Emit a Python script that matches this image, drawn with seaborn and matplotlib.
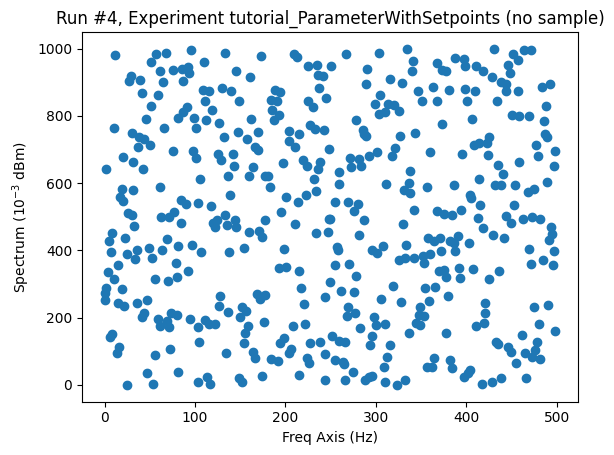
import matplotlib
matplotlib.use("Agg")
import matplotlib.pyplot as plt
import seaborn as sns

# values (freq in Hz, spectrum in 1e-3 dBm)
freq_hz = [
    11.6, 29.0, 27.1, 39.7, 41.9, 45.9, 10.9, 30.8, 38.2, 44.1, 36.7, 20.8,
    31.9, 43.0, 1.6, 19.0, 31.9, 17.1, 20.8, 25.6, 30.1, 33.0, 8.7, 5.0,
    22.7, 7.2, 24.5, 35.6, 33.8, 15.3, 4.2, 10.9, 1.3, 0.0, 0.5, 19.7,
    46.7, 14.6, 22.0, 36.3, 44.1, 41.1, 8.7, 6.1, 16.0, 13.5, 46.7, 24.9,
    51.4, 57.0, 67.7, 61.4, 65.1, 75.1, 85.4, 92.0, 93.5, 87.2, 95.7, 109.4,
    59.6, 51.4, 90.9, 87.2, 81.7, 108.3, 110.5, 99.4, 100.9, 112.3, 66.2, 50.3,
    76.2, 98.3, 100.9, 105.7, 61.4, 84.7, 89.8, 103.8, 62.5, 71.4, 77.3, 84.7,
    49.2, 52.2, 64.0, 68.8, 81.7, 97.2, 106.8, 78.7, 55.9, 70.6, 80.6, 92.0,
    58.8, 61.4, 68.8, 71.4, 73.6, 79.9, 94.6, 103.1, 111.2, 104.6, 55.9, 72.5,
    54.0, 81.7, 103.1, 113.1,
    132.6, 173.2, 145.1, 161.0, 114.9, 129.7, 140.0, 148.1, 118.6, 126.0, 131.5, 162.1,
    147.0, 157.3, 169.5, 166.6, 169.5, 125.2, 128.9, 141.5, 142.6, 163.6, 159.9, 136.3,
    176.9, 138.9, 117.8, 133.3, 124.1, 120.4, 122.3, 143.7, 135.2, 145.1, 159.2, 170.2,
    173.9, 177.6, 153.6, 137.8, 168.4, 172.1, 177.6, 127.8, 126.7, 137.0, 151.8, 156.2,
    149.9, 158.4, 155.5, 153.6, 175.8, 114.9, 122.3, 134.1, 164.0, 165.8, 116.7, 148.1,
    151.8, 173.9,
    209.0, 212.7, 224.8, 234.8, 235.9, 241.1, 237.4, 244.8, 188.7, 194.2, 184.2, 190.5,
    185.0, 193.1, 186.8, 224.8, 230.0, 227.4, 233.0, 242.2, 203.4, 214.5, 204.2, 210.1,
    196.8, 218.9, 223.7, 238.5, 235.9, 231.1, 180.6, 182.8, 200.5, 213.4, 222.6, 233.7,
    195.3, 210.8, 247.7, 234.1, 197.9, 192.4, 200.5, 214.5, 217.5, 244.0, 220.0, 207.9,
    221.1, 197.9, 194.2, 206.4, 203.4, 184.2, 191.6, 227.4, 238.5, 223.7, 225.6, 244.0,
    215.2, 243.3,
    266.9, 303.8, 250.6, 290.1, 289.0, 316.0, 304.9, 298.6, 313.4, 303.0, 309.7, 278.3,
    285.3, 286.4, 289.0, 247.7, 271.7, 280.9, 272.8, 283.9, 292.0, 301.2, 259.5, 258.8,
    311.5, 254.3, 269.1, 280.2, 275.4, 286.4, 281.6, 249.5, 247.0, 256.9, 258.0, 295.7,
    301.2, 307.5, 255.1, 270.6, 278.0, 249.5, 261.7, 275.4, 306.0, 269.1, 268.0, 276.5,
    297.5, 300.1, 309.7, 282.7, 295.7, 293.8, 251.4, 258.8, 265.4, 255.1, 263.2, 264.3,
    274.3, 316.0, 312.3, 308.6, 265.4, 287.5, 292.0, 295.7, 310.4,
    334.4, 341.0, 339.9, 367.6, 373.1, 377.9, 387.9, 328.8, 363.1, 380.5, 346.2, 351.0,
    367.6, 319.6, 325.1, 373.1, 343.6, 326.2, 321.4, 317.7, 360.2, 338.0, 336.2, 330.7,
    338.0, 356.5, 386.7, 341.7, 367.6, 374.9, 384.2, 329.9, 333.6, 357.2, 363.9, 370.5,
    359.4, 372.0, 381.6, 386.7, 387.9, 325.1, 332.5, 342.5, 352.1, 352.8, 369.4, 374.9,
    377.9, 379.4, 318.9, 354.6, 365.7, 358.3, 327.7, 348.4, 347.3, 344.7, 352.8, 349.1,
    336.2, 377.9, 363.9, 356.5, 362.0, 382.3, 384.2, 323.3, 332.5,
    430.3, 397.1, 398.2, 410.8, 418.2, 427.8, 451.4, 457.3, 446.2, 447.7, 438.8, 443.3,
    444.0, 457.3, 399.0, 409.3, 400.8, 434.0, 449.9, 458.0, 406.4, 408.2, 413.7, 422.9,
    425.5, 395.3, 423.7, 435.1, 440.3, 458.7, 414.5, 431.4, 438.8, 454.3, 404.5, 405.6,
    415.6, 394.5, 452.5, 413.0, 443.3, 448.8, 418.2, 429.2, 441.4, 390.9, 402.7, 392.3,
    393.4, 407.1, 424.8, 436.6, 421.1, 420.4, 419.3, 410.8, 432.9, 435.1, 446.2, 448.8,
    455.1, 404.5, 401.9, 397.1, 417.4, 428.5, 438.8,
    463.5, 470.9, 483.8, 492.3, 487.5, 469.0, 485.6, 486.4, 489.3, 477.5, 479.0, 498.5,
    497.4, 488.6, 467.9, 474.6, 462.8, 472.7, 481.2, 493.7, 494.9, 491.2, 469.0, 496.7,
    471.6, 484.9, 495.6, 475.3, 490.1, 480.1, 498.5, 461.6, 478.3, 476.4, 465.3, 472.7,
    481.9, 466.4,
]

spectrum = [
    980, 918, 903, 906, 867, 791, 764, 750, 738, 731, 708, 678,
    663, 643, 642, 584, 580, 558, 548, 511, 504, 473, 453, 429,
    436, 396, 389, 402, 374, 356, 337, 315, 289, 273, 253, 284,
    253, 243, 235, 243, 213, 201, 152, 142, 114, 96, 35, 0,
    961, 983, 986, 935, 901, 936, 941, 945, 928, 905, 997, 961,
    863, 831, 827, 811, 794, 878, 844, 794, 764, 789, 764, 714,
    695, 695, 675, 613, 590, 551, 539, 541, 499, 499, 513, 481,
    407, 377, 402, 433, 412, 417, 394, 362, 316, 310, 322, 340,
    197, 175, 191, 173, 215, 208, 195, 173, 193, 129, 89, 106,
    2, 39, 9, 24,
    987, 978, 935, 916, 873, 883, 873, 844, 817, 779, 737, 791,
    752, 732, 752, 709, 700, 688, 670, 687, 652, 648, 620, 622,
    620, 565, 533, 506, 491, 481, 469, 491, 476, 469, 456, 459,
    441, 489, 407, 394, 270, 255, 268, 265, 235, 218, 233, 221,
    201, 175, 155, 124, 187, 181, 181, 94, 99, 81, 4, 19,
    9, 26,
    983, 976, 950, 953, 923, 918, 883, 853, 878, 870, 846, 843,
    819, 804, 787, 843, 827, 774, 762, 759, 754, 747, 724, 707,
    660, 670, 652, 663, 642, 612, 620, 590, 559, 544, 565, 576,
    513, 479, 493, 453, 405, 347, 352, 340, 287, 260, 241, 175,
    181, 138, 124, 106, 94, 76, 71, 124, 129, 79, 64, 92,
    29, 16,
    983, 986, 950, 940, 896, 910, 863, 837, 837, 806, 811, 787,
    759, 747, 741, 702, 675, 672, 648, 650, 680, 692, 633, 598,
    597, 544, 543, 539, 516, 491, 446, 493, 456, 410, 400, 402,
    392, 414, 357, 359, 324, 305, 279, 277, 255, 233, 205, 213,
    203, 178, 181, 168, 145, 119, 145, 132, 129, 74, 69, 61,
    39, 119, 84, 54, 14, 14, 24, 26, 10,
    999, 963, 933, 958, 938, 935, 973, 898, 886, 878, 875, 845,
    843, 834, 816, 776, 749, 739, 704, 680, 693, 635, 600, 580,
    572, 588, 595, 519, 516, 509, 506, 479, 417, 436, 429, 436,
    389, 397, 429, 421, 397, 372, 377, 377, 382, 364, 340, 342,
    322, 265, 294, 287, 290, 251, 248, 231, 208, 183, 205, 178,
    155, 153, 79, 52, 52, 74, 49, 0, 14,
    999, 968, 950, 950, 933, 916, 983, 966, 953, 928, 900, 896,
    873, 875, 880, 873, 844, 844, 804, 799, 791, 714, 721, 721,
    737, 688, 684, 655, 628, 663, 612, 595, 595, 595, 566, 556,
    536, 521, 536, 496, 503, 481, 466, 446, 436, 443, 423, 347,
    317, 344, 314, 340, 245, 215, 185, 175, 129, 122, 112, 99,
    66, 44, 34, 22, 2, 9, 19,
    997, 997, 886, 896, 831, 799, 784, 747, 737, 714, 682, 697,
    650, 603, 573, 582, 493, 499, 493, 471, 449, 431, 405, 397,
    359, 372, 357, 231, 238, 181, 160, 148, 129, 104, 96, 82,
    76, 19,
]

fig = plt.figure(figsize=(6.14, 4.55), dpi=100)
ax = fig.add_axes([0.1336, 0.1172, 0.8078, 0.8119])

# same look as plt.plot(..., "o"): marker edge in the face colour
sns.scatterplot(x=freq_hz, y=spectrum, ax=ax, color="#1f77b4", s=36,
                edgecolor="#1f77b4", linewidth=1.0, alpha=1.0)

ax.set_title("Run #4, Experiment tutorial_ParameterWithSetpoints (no sample)")
ax.set_xlabel("Freq Axis (Hz)")
ax.set_ylabel("Spectrum ($10^{-3}$ dBm)")

fig.savefig("out.png", dpi=100)
